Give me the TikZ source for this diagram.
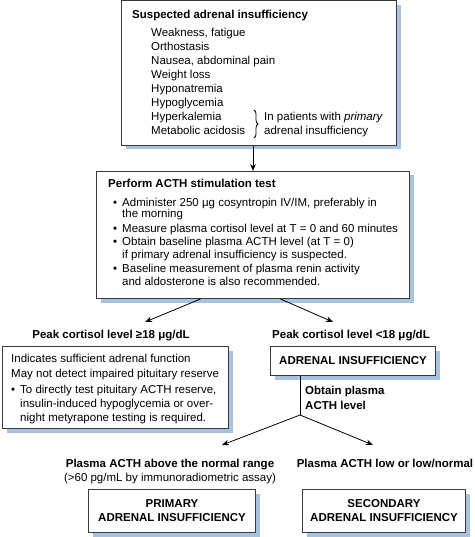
\documentclass[tikz,border=0pt]{standalone}
\usepackage{fontspec}
\setmainfont{Liberation Sans}
\usetikzlibrary{arrows.meta,shadows,decorations.pathreplacing}
\definecolor{shadowblue}{HTML}{A9C2E0}
\definecolor{boxline}{HTML}{3A3A3A}
\newcommand{\fs}{\fontsize{11.5}{14}\selectfont}
\begin{document}
\begin{tikzpicture}[x=1pt,y=-1pt,
 box/.style={draw=boxline, line width=1pt, fill=white, anchor=north west, inner sep=0,
   drop shadow={shadow xshift=4pt, shadow yshift=-4pt, fill=shadowblue, opacity=1}},
 tl/.style={font=\fs, inner sep=0, anchor=base west},
 tb/.style={font=\fs\bfseries, inner sep=0, anchor=base west},
 tc/.style={font=\fs\bfseries, inner sep=0, anchor=base},
 tcr/.style={font=\fs, inner sep=0, anchor=base},
 arr/.style={-{Stealth[length=7pt,width=5.5pt]}, line width=0.8pt},
 ln/.style={line width=0.8pt}]
\useasboundingbox (0,0) rectangle (474,537);

% Box 1
\node[box, minimum width=275pt, minimum height=144.5pt] (b1) at (121,0.5) {};
\node[tb] (t1) at (132,19) {Suspected adrenal insufficiency};
\node[tl] (s1) at (151,37) {Weakness, fatigue};
\node[tl] (s2) at (151,50.9) {Orthostasis};
\node[tl] (s3) at (151,64.8) {Nausea, abdominal pain};
\node[tl] (s4) at (151,78.7) {Weight loss};
\node[tl] (s5) at (151,92.6) {Hyponatremia};
\node[tl] (s6) at (151,106.5) {Hypoglycemia};
\node[tl] (s7) at (151,120.4) {Hyperkalemia};
\node[tl] (s8) at (151,134.3) {Metabolic acidosis};
\draw[ln, decorate, decoration={brace, amplitude=4pt}] (254,110) -- (254,138);
\node[tl] (p1) at (264,120.4) {In patients with \textit{primary}};
\node[tl] (p2) at (264,134.3) {adrenal insufficiency};

% Box 2
\node[box, minimum width=313pt, minimum height=127pt] (b2) at (96,171) {};
\node[tb] (t2) at (108,188) {Perform ACTH stimulation test};
\node[tl] (d1) at (113,206) {•};
\node[tl] (l1) at (122,206) {Administer 250 μg cosyntropin IV/IM, preferably in};
\node[tl] (l2) at (122,217.5) {the morning};
\node[tl] (d2) at (113,232) {•};
\node[tl] (l3) at (122,232) {Measure plasma cortisol level at T = 0 and 60 minutes};
\node[tl] (d3) at (113,245.5) {•};
\node[tl] (l4) at (122,245.5) {Obtain baseline plasma ACTH level (at T = 0)};
\node[tl] (l5) at (122,258) {if primary adrenal insufficiency is suspected.};
\node[tl] (d4) at (113,272) {•};
\node[tl] (l6) at (122,272) {Baseline measurement of plasma renin activity};
\node[tl] (l7) at (122,285) {and aldosterone is also recommended.};

\draw[arr] (b1.south -| b2.north) -- (b2.north);

\coordinate (cL) at (145,322);
\coordinate (cR) at (333,322);
\draw[arr] ([xshift=-52.5pt]b2.south) -- (cL);
\draw[arr] ([xshift=27.5pt]b2.south) -- (cR);

\node[tc] (pk1) at (111,338) {Peak cortisol level ≥18 μg/dL};
\node[tc] (pk2) at (351,338) {Peak cortisol level <18 μg/dL};

% Box 3
\node[box, minimum width=226pt, minimum height=82pt] (b3) at (2,346) {};
\node[tl] (m1) at (11,362) {Indicates sufficient adrenal function};
\node[tl] (m2) at (11,377) {May not detect impaired pituitary reserve};
\node[tl] (d5) at (11,393) {•};
\node[tl] (m3) at (20,393) {To directly test pituitary ACTH reserve,};
\node[tl] (m4) at (20,407) {insulin-induced hypoglycemia or over-};
\node[tl] (m5) at (20,421) {night metyrapone testing is required.};

% Box 4
\node[box, minimum width=165pt, minimum height=29pt, font=\fs\bfseries] (b4) at (270,346) {ADRENAL INSUFFICIENCY};

\coordinate (split) at (300,415);
\draw[ln] (b4.south -| split) -- (split);
\node[tb] (o1) at (305,394) {Obtain plasma};
\node[tb] (o2) at (305,409) {ACTH level};
\coordinate (aL) at (222,445);
\coordinate (aR) at (373,445);
\draw[arr] (split) -- (aL);
\draw[arr] (split) -- (aR);

\node[tc] (q1) at (170,467) {Plasma ACTH above the normal range};
\node[tcr] (q2) at (170,481) {(>60 pg/mL by immunoradiometric assay)};
\node[tc] (q3) at (385,467) {Plasma ACTH low or low/normal};

\node[box, minimum width=167pt, minimum height=43pt, font=\fs\bfseries, align=center] (b5) at (88,489) {PRIMARY\\ADRENAL INSUFFICIENCY};
\node[box, minimum width=163pt, minimum height=43pt, font=\fs\bfseries, align=center] (b6) at (302,489) {SECONDARY\\ADRENAL INSUFFICIENCY};
\end{tikzpicture}
\end{document}
